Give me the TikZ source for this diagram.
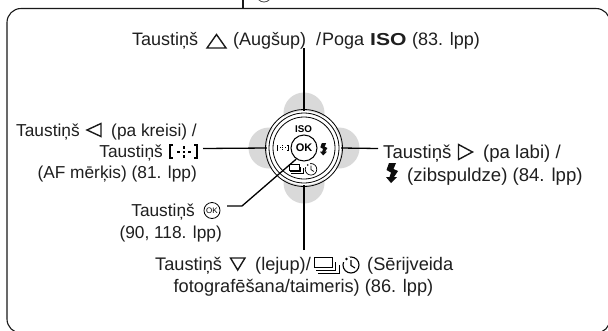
\documentclass[tikz,border=0pt]{standalone}
\usepackage{fontspec}
\setmainfont{Liberation Sans}
\newcommand{\flashglyph}[3]{\fill[black!95,shift={(#1,#2)},scale=#3] (3,0) -- (10,0) -- (7.5,6) -- (12,8) -- (8,14) -- (11,14) -- (5,20) -- (0,14) -- (3.5,14) -- (5,9.5) -- (0.5,7) -- cycle;}
\newcommand{\timerglyph}[4]{\begin{scope}[shift={(#1,#2)},scale=#3,line width=#4]
  \draw (0,0) circle (8);
  \fill[white] (-8.5,-8.5) rectangle (-1.5,-3.5);
  \fill (-4.5,-6) circle (1.3);
  \draw (0,-5) -- (0,0.5) -- (4,3);
  \end{scope}}
\newcommand{\driveglyph}[4]{\begin{scope}[shift={(#1,#2)},scale=#3,line width=#4]
  \draw (0,0) rectangle (18,10.5);
  \draw (2,13) -- (21,13) -- (21,5);
  \draw (4,16) -- (25,16) -- (25,8);
  \end{scope}}
\newcommand{\afglyph}[4]{\begin{scope}[shift={(#1,#2)},scale=#3,line width=#4]
  \draw (3,0) -- (0,0) -- (0,13) -- (3,13);
  \draw (24,0) -- (27,0) -- (27,13) -- (24,13);
  \fill (7,5.5) rectangle +(2.5,2.5);
  \fill (18,5.5) rectangle +(2.5,2.5);
  \fill (12.5,1) rectangle +(2.5,2.5);
  \fill (12.5,5.5) rectangle +(2.5,2.5);
  \fill (12.5,10) rectangle +(2.5,2.5);
  \end{scope}}
\begin{document}
\begin{tikzpicture}[x=1pt,y=-1pt,
  lbl/.style={inner sep=0pt,font=\fontsize{17.3}{20}\selectfont,text=black!88},
  lbltop/.style={lbl,font=\fontsize{18}{20}\selectfont},
  lblright/.style={lbl,font=\fontsize{18.6}{20}\selectfont},
  lblbot/.style={lbl,font=\fontsize{18.2}{20}\selectfont},
  conn/.style={line width=1.3pt,black},
  ring/.style={draw=black,line width=0.8pt,fill=none},
  sym/.style={line width=1.4pt,draw=black!90,line join=miter},
  frameline/.style={line width=1.1pt,black!90}]
\useasboundingbox (0,0) rectangle (608,330);
\clip (0,0) rectangle (608,330);
\fill[white] (0,0) rectangle (608,330);
% frame
\coordinate (stemtop) at (243,-2);
\coordinate (frametop) at (243,8.5);
\draw[frameline] (stemtop) -- (frametop);
\draw[line width=0.8pt,black!70] (264,-5.5) circle (7.5);
\draw[frameline,rounded corners=14pt] (7,333) -- (7,8.5) -- (610,8.5) -- (610,333) -- cycle;
% dial
\foreach \x/\y in {304/113,269/148,339/148,304/183}
  \fill[black!15] (\x,\y) circle (20.5);
\node[circle,draw=none,minimum size=74pt,inner sep=0pt,fill=white] (dial) at (304,148) {};
\draw[ring] (dial.center) circle (38.5);
\draw[ring] (dial.center) circle (35);
\draw[ring] (dial.center) circle (31);
\node[circle,draw,line width=1pt,fill=white,minimum size=26pt,inner sep=0pt,font=\fontsize{11}{11}\bfseries\selectfont] (ok) at (304,148) {OK};
\node[inner sep=0pt,font=\fontsize{9.8}{10}\bfseries\selectfont] (iso) at (303.5,129) {ISO};
\afglyph{277}{145}{0.42}{0.8pt}
\flashglyph{320}{143}{0.62}
\driveglyph{289}{164}{0.56}{0.6pt}
\timerglyph{311}{169.3}{0.72}{0.7pt}
% labels
\node[lbltop,anchor=base west] (top) at (132,45.5) {Taustiņš};
\draw[sym] (207,48) -- (216.5,34.5) -- (226,48) -- cycle;
\node[lbltop,anchor=base west] (top2) at (233,45.5) {(Augšup)};
\node[lbltop,anchor=base west] (top2b) at (316,45.5) {/};
\node[lbltop,anchor=base west] (top2c) at (322,45.5) {Poga};
\node[lbltop,anchor=base west,font=\fontsize{17.3}{20}\bfseries\selectfont] (topiso) at (370,45.5) {\scalebox{1.22}[1]{ISO}};
\node[lbltop,anchor=base west] (top3) at (412,45.5) {(83. lpp)};
\node[lbl,anchor=base west] (l1a) at (16,136) {Taustiņš};
\draw[sym] (101,123.5) -- (87,130) -- (101,136.5) -- cycle;
\node[lbl,anchor=base east] (l1b) at (197,136) {(pa kreisi) /};
\node[lbl,anchor=base east] (l2) at (163,157) {Taustiņš};
\afglyph{170}{145}{1}{1.5pt}
\node[lbl,anchor=base east] (l3) at (197,178) {(AF mērķis) (81. lpp)};
\node[lbl,anchor=base east] (o1) at (195,216) {Taustiņš};
\node[circle,draw,line width=0.8pt,inner sep=0pt,minimum size=16pt,font=\fontsize{8}{8}\selectfont] (oksym) at (212,210.5) {OK};
\node[lbl,anchor=base east] (o2) at (222,238) {(90, 118. lpp)};
\node[lblright,anchor=base west] (r1) at (383,158) {Taustiņš};
\draw[sym] (458.5,144.5) -- (472.5,152) -- (458.5,159.5) -- cycle;
\node[lblright,anchor=base west] (r1b) at (483,158) {(pa labi) /};
\flashglyph{386}{163}{1}
\node[lblright,anchor=base west] (r2) at (407,181) {(zibspuldze) (84. lpp)};
\node[lblbot,anchor=base west] (b1a) at (155,270) {Taustiņš};
\draw[sym] (230.5,258) -- (245,258) -- (237.7,270) -- cycle;
\node[lblbot,anchor=base west] (b1b) at (255,270) {(lejup)/};
\driveglyph{314}{257}{1}{0.9pt}
\timerglyph{351}{265}{1}{1.1pt}
\node[lblbot,anchor=base west] (b1c) at (367,270) {(Sērijveida};
\node[lblbot,anchor=base] (b2) at (303.5,292) {fotografēšana/taimeris) (86. lpp)};
% connectors
\coordinate (t0) at (304,48);
\coordinate (l0) at (203,148.5);
\coordinate (r0) at (378,148.5);
\coordinate (b0) at (304,250);
\coordinate (o0) at (227,206);
\coordinate (o1e) at (242,206);
\draw[conn] (t0) -- (dial.north);
\draw[conn] (l0) -- (dial.west);
\draw[conn] (r0) -- (dial.east);
\draw[conn] (b0) -- (dial.south);
\draw[conn] (o0) -- (o1e) -- (ok.235);
\end{tikzpicture}
\end{document}
